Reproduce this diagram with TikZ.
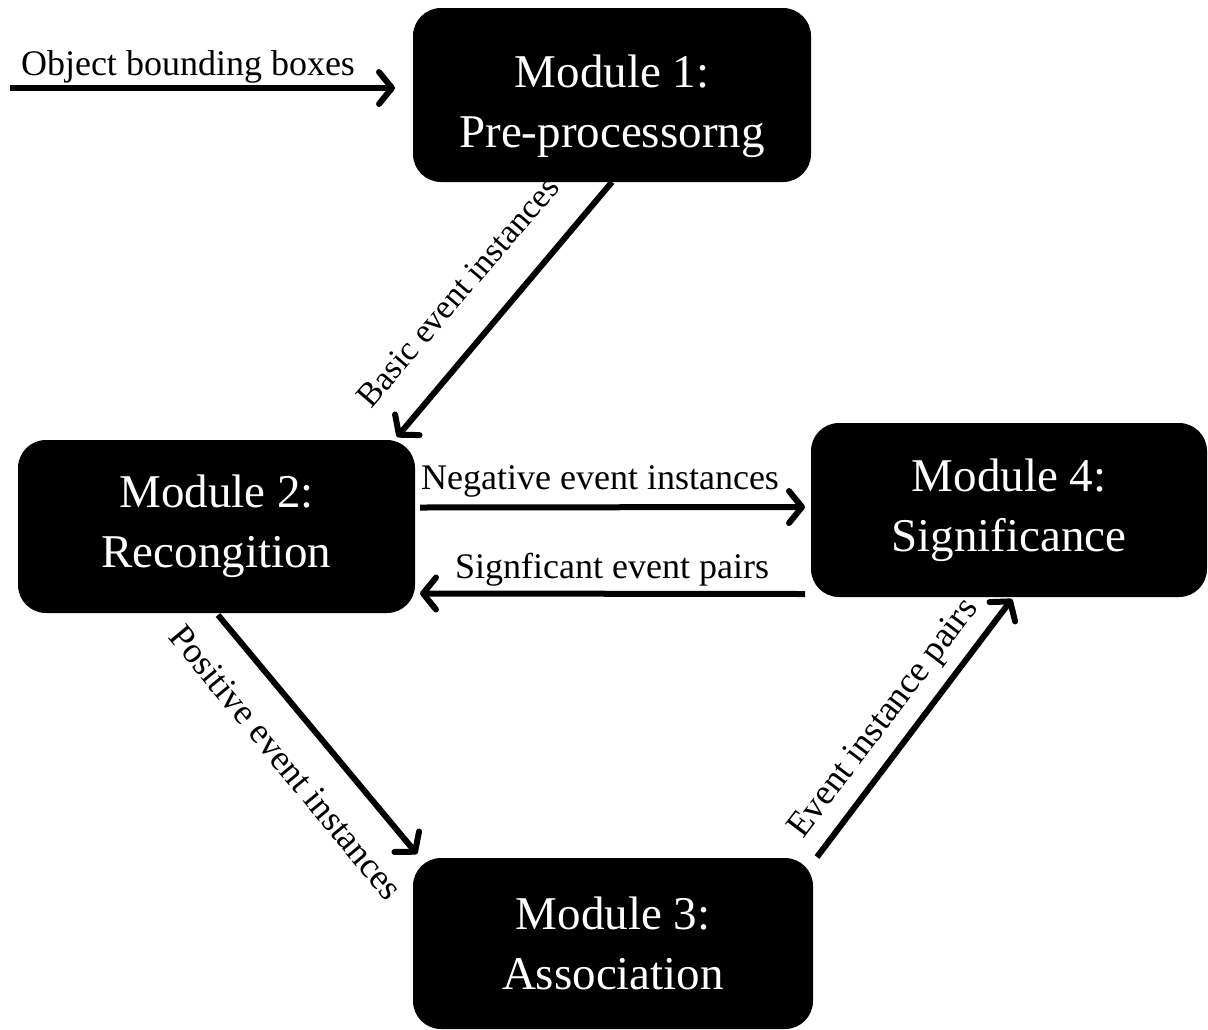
\documentclass[tikz,border=0pt]{standalone}
\usepackage{fontspec}
\setmainfont{Liberation Serif}
\usetikzlibrary{arrows.meta,calc}
\begin{document}
\begin{tikzpicture}[x=1pt,y=-1pt,
  module/.style={fill=black,text=white,rounded corners=28pt,inner sep=0pt,outer sep=0pt,
    align=center,font=\fontsize{47}{60}\selectfont},
  conn/.style={line width=6pt,-{Straight Barb[length=13pt,width=32pt,round]}},
  lbl/.style={font=\fontsize{36}{40}\selectfont,inner sep=0pt,anchor=base}]
\useasboundingbox[fill=white] (0,0) rectangle (1208,1029);

\node[module,minimum width=398pt,minimum height=174pt] (m1) at (612,95)
  {\rule{0pt}{55pt}Module 1:\\Pre-processorng};
\node[module,minimum width=397pt,minimum height=173pt] (m2) at (216.5,526.5)
  {Module 2:\\Recongition};
\node[module,minimum width=396pt,minimum height=174pt] (m4) at (1009,510)
  {Module 4:\\Significance};
\node[module,minimum width=400pt,minimum height=171pt] (m3) at (613,943.5)
  {Module 3:\\Association};

\coordinate (obj) at (10,88);
\draw[conn] (obj) -- ($(m1.west |- obj)+(-18,0)$);
\node[lbl] (lobj) at (188,75) {Object bounding boxes};

\draw[conn] (m1.south) -- ($(m2.north east)+(-18,-3)$);
\node[lbl,rotate=49.4,font=\fontsize{34}{40}\selectfont] (lbasic) at (466,299) {Basic event instances};

\draw[conn] ($(m2.east)+(5,-19)$) -- ($(m4.west)+(-6,-3)$);
\node[lbl] (lneg) at (600,489) {Negative event instances};

\draw[conn] ($(m4.west)+(-6,84)$) -- ($(m2.east)+(5,67)$);
\node[lbl] (lsig) at (612,578) {Signficant event pairs};

\draw[conn] ($(m2.south)+(1.5,2)$) -- ($(m3.north west)+(4,-4)$);
\node[lbl,rotate=-50.4] (lpos) at (277,770) {Positive event instances};

\draw[conn] ($(m3.north east)+(4,-1)$) -- ($(m4.south)+(3,2)$);
\node[lbl,rotate=52.9] (lpair) at (891,724) {Event instance pairs};
\end{tikzpicture}
\end{document}
